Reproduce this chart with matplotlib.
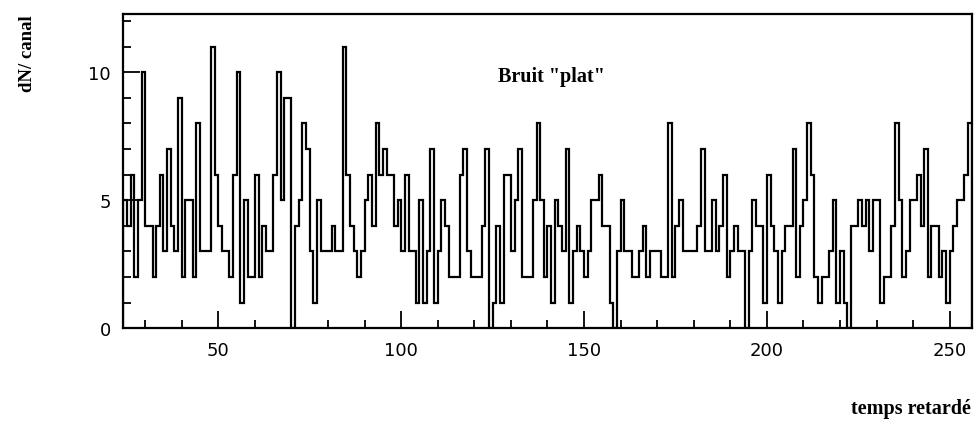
import numpy as np
import matplotlib
matplotlib.use("Agg")
import matplotlib.pyplot as plt
from matplotlib.ticker import MultipleLocator

# counts per channel, channels 24 .. 255
first_channel = 24
counts = [
    5, 4, 6, 2, 5, 10, 4, 4, 2, 4,
    6, 3, 7, 4, 3, 9, 2, 5, 5, 2,
    8, 3, 3, 3, 11, 6, 4, 3, 3, 2,
    6, 10, 1, 5, 2, 2, 6, 2, 4, 3,
    3, 6, 10, 5, 9, 9, 0, 4, 5, 8,
    7, 3, 1, 5, 3, 3, 3, 4, 3, 3,
    11, 6, 4, 3, 2, 3, 5, 6, 4, 8,
    6, 7, 6, 6, 4, 5, 3, 6, 3, 3,
    1, 5, 1, 3, 7, 1, 3, 5, 4, 2,
    2, 2, 6, 7, 3, 2, 2, 2, 4, 7,
    0, 1, 4, 1, 6, 6, 3, 5, 7, 2,
    2, 2, 5, 8, 5, 2, 4, 1, 5, 4,
    3, 7, 1, 3, 4, 3, 2, 3, 5, 5,
    6, 4, 4, 1, 0, 3, 5, 3, 3, 2,
    2, 3, 4, 2, 3, 3, 3, 2, 2, 8,
    2, 4, 5, 3, 3, 3, 3, 4, 7, 3,
    3, 5, 3, 4, 6, 2, 3, 4, 3, 3,
    0, 3, 5, 4, 4, 1, 6, 4, 3, 1,
    3, 4, 4, 7, 2, 4, 5, 8, 6, 2,
    1, 2, 2, 3, 5, 1, 3, 1, 0, 4,
    4, 5, 4, 5, 3, 5, 5, 1, 2, 2,
    4, 8, 5, 2, 3, 5, 5, 6, 4, 7,
    2, 4, 4, 2, 3, 1, 3, 4, 5, 5, 6, 8,
]
x_ticks = [50, 100, 150, 200, 250]
y_ticks = [0, 5, 10]
title_text = 'Bruit "plat"'
x_label = "temps retardé"
y_label = "dN/ canal"

edges = np.arange(first_channel, first_channel + len(counts) + 1)

fig = plt.figure(figsize=(9.76, 4.31), dpi=100)
ax = fig.add_axes([0.1263, 0.236, 0.8693, 0.729])

ax.stairs(counts, edges, color="black", lw=1.6)

ax.set_xlim(first_channel, first_channel + len(counts))
ax.set_ylim(0, 12.27)

ax.set_xticks(x_ticks)
ax.xaxis.set_minor_locator(MultipleLocator(10))
ax.set_yticks(y_ticks)
ax.yaxis.set_minor_locator(MultipleLocator(1))
ax.tick_params(which="both", direction="in", top=False, right=False,
               width=1.3, labelsize=13, colors="black")
ax.tick_params(which="major", length=12, pad=9)
ax.tick_params(which="minor", length=6)

for s in ax.spines.values():
    s.set_linewidth(1.6)

serif = ["Liberation Serif", "DejaVu Serif"]
ax.text(141, 9.85, title_text, ha="center", va="center",
        fontsize=14.5, family=serif, fontweight="bold")
fig.text(0.995, 0.05, x_label, ha="right", va="center",
         fontsize=14.5, family=serif, fontweight="bold")
fig.text(0.028, 0.875, y_label, ha="center", va="center", rotation=90,
         fontsize=13.5, family=serif, fontweight="bold")

fig.savefig("out.png", dpi=100)
